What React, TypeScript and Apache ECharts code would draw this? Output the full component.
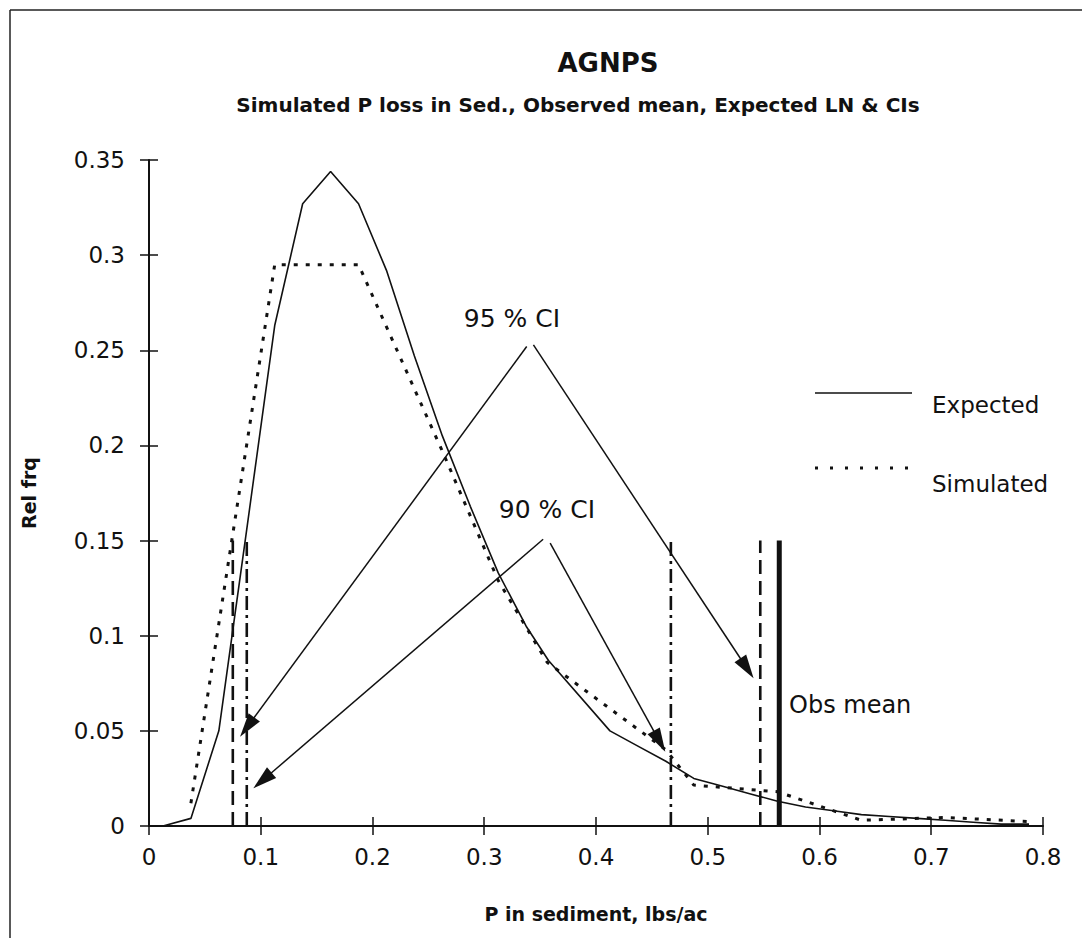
import React, { useEffect, useRef } from "react";
import * as echarts from "echarts";

// ---- data ----
const expectedX = [
  0.0125, 0.0375, 0.0625, 0.0875, 0.1125, 0.1375, 0.1625, 0.1875, 0.2125, 0.2375,
  0.2625, 0.2875, 0.3125, 0.3375, 0.3575, 0.4125, 0.4375, 0.4625, 0.4875, 0.5125,
  0.5375, 0.5625, 0.5875, 0.6125, 0.6375, 0.6625, 0.6875, 0.7125, 0.7375, 0.7625, 0.7875,
];
const expectedY = [
  0, 0.004, 0.05, 0.156, 0.263, 0.327, 0.344, 0.327, 0.292, 0.247,
  0.205, 0.168, 0.133, 0.105, 0.087, 0.05, 0.042, 0.034, 0.025, 0.021,
  0.017, 0.013, 0.01, 0.008, 0.006, 0.005, 0.004, 0.003, 0.002, 0.001, 0.001,
];

const simulatedX = [0.0375, 0.1125, 0.1875, 0.2625, 0.3125, 0.3563, 0.4625, 0.4875, 0.5625, 0.6375, 0.7125, 0.7875];
const simulatedY = [0.012, 0.295, 0.295, 0.197, 0.129, 0.086, 0.04, 0.0215, 0.018, 0.003, 0.0045, 0.0023];

const ci95 = [0.075, 0.547];
const ci90 = [0.0875, 0.467];
const obsMean = 0.564;
const markerTop = 0.15;

// arrows: [fromX, fromY, toX, toY]
const arrows95 = [
  [0.338, 0.252, 0.0815, 0.0469],
  [0.344, 0.2528, 0.541, 0.0776],
];
const arrows90 = [
  [0.3527, 0.1507, 0.0934, 0.0198],
  [0.359, 0.1486, 0.462, 0.039],
];

const FONT = "DejaVu Sans";
const INK = "#111";

function vline(name: string, x: number, top: number, type: any, width: number) {
  return {
    name,
    type: "line",
    data: [
      [x, 0],
      [x, top],
    ],
    showSymbol: false,
    symbol: "none",
    silent: true,
    lineStyle: { color: INK, width, type },
    z: 3,
  };
}

function buildOption() {
  const grid = { left: 149, top: 160, width: 894, height: 666 };
  const axisText = { color: INK, fontFamily: FONT, fontSize: 23 };
  const fmt = (v: number) => String(+v.toFixed(2));
  return {
    animation: false,
    backgroundColor: "#fff",
    grid,
    xAxis: [
      {
        type: "value",
        min: 0,
        max: 0.8,
        interval: 0.1,
        position: "bottom",
        axisLine: { show: true, lineStyle: { color: INK, width: 2 } },
        axisTick: { show: true, length: 9, lineStyle: { color: INK, width: 1.5 } },
        axisLabel: { ...axisText, margin: 19, formatter: fmt },
        splitLine: { show: false },
        name: "P in sediment, lbs/ac",
        nameLocation: "middle",
        nameGap: 78,
        nameTextStyle: { color: INK, fontFamily: FONT, fontSize: 19, fontWeight: "bold" },
      },
      {
        type: "value",
        min: 0,
        max: 0.8,
        interval: 0.1,
        position: "bottom",
        offset: 0,
        axisLine: { show: false },
        axisTick: { show: true, inside: true, length: 9, lineStyle: { color: INK, width: 1.5 } },
        axisLabel: { show: false },
        splitLine: { show: false },
      },
    ],
    yAxis: [
      {
        type: "value",
        min: 0,
        max: 0.35,
        interval: 0.05,
        position: "left",
        axisLine: { show: true, lineStyle: { color: INK, width: 2 } },
        axisTick: { show: true, length: 9, lineStyle: { color: INK, width: 1.5 } },
        axisLabel: { ...axisText, margin: 24, formatter: fmt },
        splitLine: { show: false },
        name: "Rel frq",
        nameLocation: "middle",
        nameGap: 111,
        nameTextStyle: { color: INK, fontFamily: FONT, fontSize: 19, fontWeight: "bold" },
      },
      {
        type: "value",
        min: 0,
        max: 0.35,
        interval: 0.05,
        position: "left",
        offset: 0,
        axisLine: { show: false },
        axisTick: { show: true, inside: true, length: 9, lineStyle: { color: INK, width: 1.5 } },
        axisLabel: { show: false },
        splitLine: { show: false },
      },
    ],
    series: [
      {
        name: "Expected",
        type: "line",
        data: expectedX.map((x, i) => [x, expectedY[i]]),
        showSymbol: false,
        symbol: "none",
        lineStyle: { color: INK, width: 1.6 },
        z: 4,
      },
      {
        name: "Simulated",
        type: "line",
        data: simulatedX.map((x, i) => [x, simulatedY[i]]),
        showSymbol: false,
        symbol: "none",
        lineStyle: { color: INK, width: 3, type: [4, 8] },
        z: 4,
      },
      vline("95% CI low", ci95[0], markerTop, [14, 7], 2.6),
      vline("95% CI high", ci95[1], markerTop, [14, 7], 2.6),
      vline("90% CI low", ci90[0], markerTop, [14, 5, 3, 5], 2.6),
      vline("90% CI high", ci90[1], markerTop, [14, 5, 3, 5], 2.6),
      vline("Obs mean", obsMean, markerTop, "solid", 5),
      {
        name: "arrows",
        type: "custom",
        silent: true,
        data: [...arrows95, ...arrows90],
        encode: { x: [0, 2], y: [1, 3] },
        z: 5,
        renderItem: (_params: any, api: any) => {
          const p1 = api.coord([api.value(0), api.value(1)]);
          const p2 = api.coord([api.value(2), api.value(3)]);
          const dx = p2[0] - p1[0];
          const dy = p2[1] - p1[1];
          const len = Math.hypot(dx, dy);
          const ux = dx / len;
          const uy = dy / len;
          const hl = 24;
          const hw = 7;
          const bx = p2[0] - ux * hl;
          const by = p2[1] - uy * hl;
          return {
            type: "group",
            children: [
              {
                type: "line",
                shape: { x1: p1[0], y1: p1[1], x2: bx + ux * 2, y2: by + uy * 2 },
                style: { stroke: INK, lineWidth: 1.5 },
              },
              {
                type: "polygon",
                shape: {
                  points: [
                    [p2[0], p2[1]],
                    [bx - uy * hw, by + ux * hw],
                    [bx + uy * hw, by - ux * hw],
                  ],
                },
                style: { fill: INK },
              },
            ],
          };
        },
      },
    ],
    graphic: [
      // frame
      { type: "line", shape: { x1: 10, y1: 10, x2: 1082, y2: 10 }, style: { stroke: "#222", lineWidth: 1.5 } },
      { type: "line", shape: { x1: 10, y1: 10, x2: 10, y2: 938 }, style: { stroke: "#222", lineWidth: 1.5 } },
      // titles
      {
        type: "text",
        x: 608,
        y: 63,
        style: { text: "AGNPS", fill: INK, font: `bold 26px "${FONT}"`, align: "center", verticalAlign: "middle" },
      },
      {
        type: "text",
        x: 578,
        y: 105,
        style: {
          text: "Simulated P loss in Sed., Observed mean, Expected LN & CIs",
          fill: INK,
          font: `bold 20px "${FONT}"`,
          align: "center",
          verticalAlign: "middle",
        },
      },
      // legend
      { type: "line", shape: { x1: 815, y1: 393, x2: 912, y2: 393 }, style: { stroke: INK, lineWidth: 1.5 } },
      {
        type: "text",
        x: 932,
        y: 405,
        style: { text: "Expected", fill: INK, font: `23px "${FONT}"`, align: "left", verticalAlign: "middle" },
      },
      {
        type: "line",
        shape: { x1: 815, y1: 468, x2: 912, y2: 468 },
        style: { stroke: INK, lineWidth: 3, lineDash: [3, 12] },
      },
      {
        type: "text",
        x: 932,
        y: 484,
        style: { text: "Simulated", fill: INK, font: `23px "${FONT}"`, align: "left", verticalAlign: "middle" },
      },
      // annotations
      {
        type: "text",
        x: 512,
        y: 318,
        style: { text: "95 % CI", fill: INK, font: `25px "${FONT}"`, align: "center", verticalAlign: "middle" },
      },
      {
        type: "text",
        x: 547,
        y: 509,
        style: { text: "90 % CI", fill: INK, font: `25px "${FONT}"`, align: "center", verticalAlign: "middle" },
      },
      {
        type: "text",
        x: 789,
        y: 705,
        style: { text: "Obs mean", fill: INK, font: `24px "${FONT}"`, align: "left", verticalAlign: "middle" },
      },
    ],
  };
}

export default function App() {
  const ref = useRef<HTMLDivElement>(null);
  useEffect(() => {
    document.body.style.margin = "0";
    document.body.style.overflow = "hidden";
    const chart = echarts.init(ref.current!, null, { renderer: "svg" });
    chart.setOption(buildOption() as any);
    return () => chart.dispose();
  }, []);
  return <div ref={ref} style={{ width: 1082, height: 938 }} />;
}
